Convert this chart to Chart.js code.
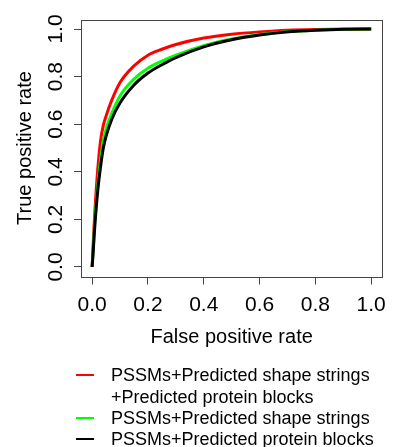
<!DOCTYPE html>
<html>
<head>
<meta charset="utf-8">
<script src="https://cdn.jsdelivr.net/npm/chart.js@4.4.1/dist/chart.umd.min.js"></script>
<style>
body { margin: 0; background: #fff; }
#wrap { position: relative; width: 394px; height: 447px; }
#legend { position: absolute; left: 0; top: 0; width: 394px; height: 447px; font: 18px "Liberation Sans", Arial, sans-serif; color: #000; }
.row { position: absolute; left: 111px; white-space: nowrap; line-height: 20px; height: 20px; }
.swatch { position: absolute; left: 76px; width: 18px; height: 2.5px; }
</style>
</head>
<body>
<div id="wrap">
  <canvas id="roc" width="394" height="447"></canvas>
  <div id="legend"></div>
</div>
<script>
// false positive rate sampling points
const fpr = [0, 0.005, 0.01, 0.02, 0.03, 0.04, 0.05, 0.07, 0.1, 0.15, 0.2, 0.25, 0.3, 0.4, 0.5, 0.6, 0.7, 0.8, 0.9, 1.0];

// true positive rates
const tprShapePB = [0, 0.13, 0.24, 0.41, 0.53, 0.595, 0.635, 0.70, 0.775, 0.845, 0.89, 0.915, 0.935, 0.962, 0.978, 0.988, 0.995, 0.998, 0.999, 1.0];
const tprShape   = [0, 0.10, 0.20, 0.34, 0.45, 0.53, 0.58, 0.645, 0.72, 0.79, 0.835, 0.865, 0.89, 0.93, 0.958, 0.977, 0.989, 0.995, 0.999, 1.0];
const tprPB      = [0, 0.09, 0.18, 0.32, 0.42, 0.50, 0.55, 0.62, 0.69, 0.765, 0.815, 0.85, 0.88, 0.925, 0.955, 0.975, 0.988, 0.995, 0.999, 1.0];

const tickVals = [0, 0.2, 0.4, 0.6, 0.8, 1.0];
const seriesNames = ['PSSMs+Predicted shape strings\n+Predicted protein blocks', 'PSSMs+Predicted shape strings', 'PSSMs+Predicted protein blocks'];
const seriesColors = ['#ff0000', '#00ff00', '#000000'];

const FONT = '"Liberation Sans", Arial, sans-serif';

const toPts = ys => fpr.map((x, i) => ({x: x, y: ys[i]}));

const setTicks = scale => { scale.ticks = tickVals.map(v => ({value: v})); };

// R-style box around the plot and rotated y tick labels
const boxPlugin = {
    id: 'rbox',
    afterDraw(chart) {
        const {ctx, chartArea: a, scales} = chart;
        ctx.save();
        ctx.strokeStyle = '#444';
        ctx.lineWidth = 1;
        ctx.strokeRect(Math.round(a.left) + 0.5, Math.round(a.top) + 0.5, Math.round(a.right - a.left), Math.round(a.bottom - a.top));
        ctx.fillStyle = '#000';
        ctx.font = '21px ' + FONT;
        ctx.textAlign = 'center';
        ctx.textBaseline = 'middle';
        tickVals.forEach(v => {
            const y = scales.y.getPixelForValue(v);
            ctx.save();
            ctx.translate(56, y);
            ctx.rotate(-Math.PI / 2);
            ctx.fillText(v.toFixed(1), 0, 0);
            ctx.restore();
        });
        ctx.restore();
    }
};

new Chart(document.getElementById('roc'), {
    type: 'line',
    data: {
        datasets: [
            { label: seriesNames[0], data: toPts(tprShapePB), borderColor: seriesColors[0], order: 2 },
            { label: seriesNames[1], data: toPts(tprShape), borderColor: seriesColors[1], order: 1 },
            { label: seriesNames[2], data: toPts(tprPB), borderColor: seriesColors[2], order: 0 }
        ]
    },
    options: {
        responsive: false,
        animation: false,
        datasets: { line: { borderWidth: 3, pointRadius: 0, cubicInterpolationMode: 'monotone', fill: false } },
        layout: { padding: { left: 0, right: 6, top: 19.5, bottom: 99.5 } },
        plugins: { legend: { display: false }, tooltip: { enabled: false } },
        scales: {
            x: {
                type: 'linear',
                min: -0.04, max: 1.04,
                afterBuildTicks: setTicks,
                afterFit: s => { s.height = 71; },
                border: { display: false },
                grid: { drawOnChartArea: false, drawTicks: true, tickLength: 8, color: '#444' },
                ticks: { color: '#000', font: { family: FONT, size: 21 }, padding: 8, maxRotation: 0, callback: v => v.toFixed(1) },
                title: { display: true, text: 'False positive rate', color: '#000', font: { family: FONT, size: 20, lineHeight: 1 }, padding: { top: 0, bottom: 0 } }
            },
            y: {
                type: 'linear',
                min: -0.04, max: 1.04,
                afterBuildTicks: setTicks,
                afterFit: s => { s.width = 81; },
                border: { display: false },
                grid: { drawOnChartArea: false, drawTicks: true, tickLength: 7, color: '#444' },
                ticks: { display: false },
                title: { display: true, text: 'True positive rate', color: '#000', font: { family: FONT, size: 20, lineHeight: 1 }, padding: { top: 15, bottom: 0 } }
            }
        }
    },
    plugins: [boxPlugin]
});

// legend below the plot
const legend = document.getElementById('legend');
const rows = [
    { text: 'PSSMs+Predicted shape strings', y: 375, color: seriesColors[0] },
    { text: '+Predicted protein blocks', y: 397, color: null },
    { text: 'PSSMs+Predicted shape strings', y: 418, color: seriesColors[1] },
    { text: 'PSSMs+Predicted protein blocks', y: 439, color: seriesColors[2] }
];
rows.forEach(r => {
    const t = document.createElement('div');
    t.className = 'row';
    t.style.top = (r.y - 10) + 'px';
    t.textContent = r.text;
    legend.appendChild(t);
    if (r.color) {
        const s = document.createElement('div');
        s.className = 'swatch';
        s.style.top = (r.y - 1.25) + 'px';
        s.style.background = r.color;
        legend.appendChild(s);
    }
});
</script>
</body>
</html>
